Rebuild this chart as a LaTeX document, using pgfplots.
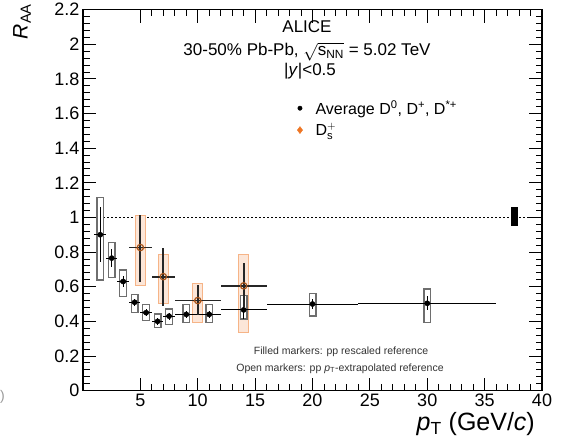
\documentclass[border=0pt]{standalone}
\usepackage{amsmath}
\usepackage{fontspec}
\setmainfont{Liberation Sans}
\usepackage{pgfplots}
\usepackage{pgfplotstable}
\pgfplotsset{compat=1.18}

\definecolor{dsorange}{RGB}{238,118,36}
\definecolor{boxgray}{RGB}{110,110,110}

% average D0, D+, D*+ : x, y, bin half widths, stat errors, syst errors
\pgfplotstableread{
x    y     xm   xp   sm    sp    ym    yp
1.5  0.90  0.5  0.5  0.155 0.16  0.265 0.22
2.5  0.765 0.5  0.5  0.05  0.05  0.115 0.095
3.5  0.63  0.5  0.5  0.03  0.03  0.09  0.07
4.5  0.51  0.5  0.5  0.02  0.02  0.064 0.05
5.5  0.45  0.5  0.5  0.02  0.02  0.05  0.05
6.5  0.40  0.5  0.5  0.02  0.02  0.04  0.046
7.5  0.43  0.5  0.5  0.02  0.02  0.05  0.045
9    0.44  1    1    0.02  0.02  0.05  0.06
11   0.44  1    1    0.02  0.02  0.05  0.06
14   0.466 2    2    0.05  0.08  0.056 0.088
20   0.50  4    4    0.03  0.03  0.073 0.066
30   0.504 6    6    0.04  0.04  0.114 0.086
}\davg

% Ds+
\pgfplotstableread{
x    y     xm   xp   sm    sp    ym    yp
5    0.826 1    1    0.196 0.19  0.22  0.19
7    0.658 1    1    0.168 0.168 0.158 0.132
10   0.52  2    2    0.083 0.09  0.13  0.10
14   0.605 2    2    0.125 0.13  0.275 0.185
}\ds

% normalisation uncertainty
\pgfplotstableread{
x    y     ym    yp
37.6 1.0   0.05  0.058
}\norm

\begin{document}
\begin{tikzpicture}
\path (0pt,0pt) rectangle (575pt,443pt);
\begin{axis}[
  at={(83pt,54pt)}, scale only axis, width=459pt, height=381pt,
  xmin=0, xmax=40, ymin=0, ymax=2.2,
  tick align=inside, major tick length=13pt, minor tick length=6.5pt, minor tick num=4,
  axis line style={line width=1.2pt},
  tick style={draw=black, line width=0.9pt},
  xtick={5,10,15,20,25,30,35,40},
  ytick={0,0.2,0.4,0.6,0.8,1,1.2,1.4,1.6,1.8,2,2.2},
  /pgf/number format/assume math mode=true,
  ticklabel style={font=\fontsize{18}{18}\selectfont},
  legend style={at={(axis cs:18.4,1.70)}, anchor=north west, draw=none, fill=none,
    font=\fontsize{16}{16}\selectfont, row sep=3pt},
  legend cell align=left,
]
% y = 1 line
\addplot[forget plot, black, line width=0.6pt, dash pattern=on 2pt off 2pt] coordinates {(0,1) (40,1)};

% Ds systematic boxes
\addplot[draw=none, forget plot, error bars/.cd, y dir=both, y explicit, error mark=none,
  error bar style={line width=11pt, draw=dsorange!55}]
  table[x=x, y=y, y error plus=yp, y error minus=ym] {\ds};
\addplot[draw=none, forget plot, error bars/.cd, y dir=both, y explicit, error mark=none,
  error bar style={line width=9pt, draw=dsorange!18, shorten <=1pt, shorten >=1pt}]
  table[x=x, y=y, y error plus=yp, y error minus=ym] {\ds};

% D average systematic boxes
\addplot[draw=none, forget plot, error bars/.cd, y dir=both, y explicit, error mark=none,
  error bar style={line width=8pt, draw=boxgray}]
  table[x=x, y=y, y error plus=yp, y error minus=ym] {\davg};
\addplot[draw=none, forget plot, error bars/.cd, y dir=both, y explicit, error mark=none,
  error bar style={line width=5.4pt, draw=white, shorten <=1.3pt, shorten >=1.3pt}]
  table[x=x, y=y, y error plus=yp, y error minus=ym] {\davg};

% normalisation box
\addplot[draw=none, forget plot, error bars/.cd, y dir=both, y explicit, error mark=none,
  error bar style={line width=6.5pt, draw=black}]
  table[x=x, y=y, y error plus=yp, y error minus=ym] {\norm};

% D average with stat errors
\addplot[forget plot, only marks, mark=*, mark size=2.6pt, black,
  error bars/.cd, x dir=both, x explicit, y dir=both, y explicit, error mark=none,
  error bar style={line width=0.9pt, black}]
  table[x=x, y=y, x error plus=xp, x error minus=xm, y error plus=sp, y error minus=sm] {\davg};

% Ds with stat errors
\addplot[forget plot, only marks, mark=o, mark size=3.2pt, line width=1.2pt, dsorange!70!black,
  error bars/.cd, x dir=both, x explicit, y dir=both, y explicit, error mark=none,
  error bar style={line width=1.8pt, black!85}]
  table[x=x, y=y, x error plus=xp, x error minus=xm, y error plus=sp, y error minus=sm] {\ds};

\addlegendimage{only marks, mark=*, mark size=2.2pt, black}
\addlegendentry{\hspace*{11pt}Average D\textsuperscript{0}, D\textsuperscript{+}, D\textsuperscript{*+}}
\addlegendimage{only marks, mark=diamond*, mark size=3.5pt, dsorange}
\addlegendentry{\hspace*{11pt}D$^{+}_{\text{s}}$}
\end{axis}

% title block
\begin{scope}[every node/.style={font=\fontsize{17}{17}\selectfont, inner sep=0pt}]
\node at (307pt,418pt) {ALICE};
\node at (307pt,393pt) {30-50\% Pb-Pb, $\sqrt{\text{s}_{\text{NN}}}$ = 5.02 TeV};
\node at (310pt,373pt) {|\textit{y}|<0.5};
\end{scope}

% notes
\begin{scope}[every node/.style={font=\fontsize{10.5}{10.5}\selectfont, inner sep=0pt, text=black!80}]
\node at (341pt,93pt) {Filled markers: pp rescaled reference};
\node at (340pt,76pt) {Open markers: pp \textit{p}\textsubscript{T}-extrapolated reference};
\end{scope}

% axis titles
\node[font=\fontsize{21}{21}\selectfont, rotate=90, anchor=east, inner sep=0pt] at (22pt,441pt) {\textit{R}\textsubscript{AA}};
\node[font=\fontsize{25}{25}\selectfont, anchor=base east, inner sep=0pt] at (535pt,14pt) {\textit{p}\textsubscript{T} (GeV/\textit{c})};
\node[font=\fontsize{14}{14}\selectfont, text=black!40, anchor=west, inner sep=0pt] at (0pt,48pt) {)};
\end{tikzpicture}
\end{document}
